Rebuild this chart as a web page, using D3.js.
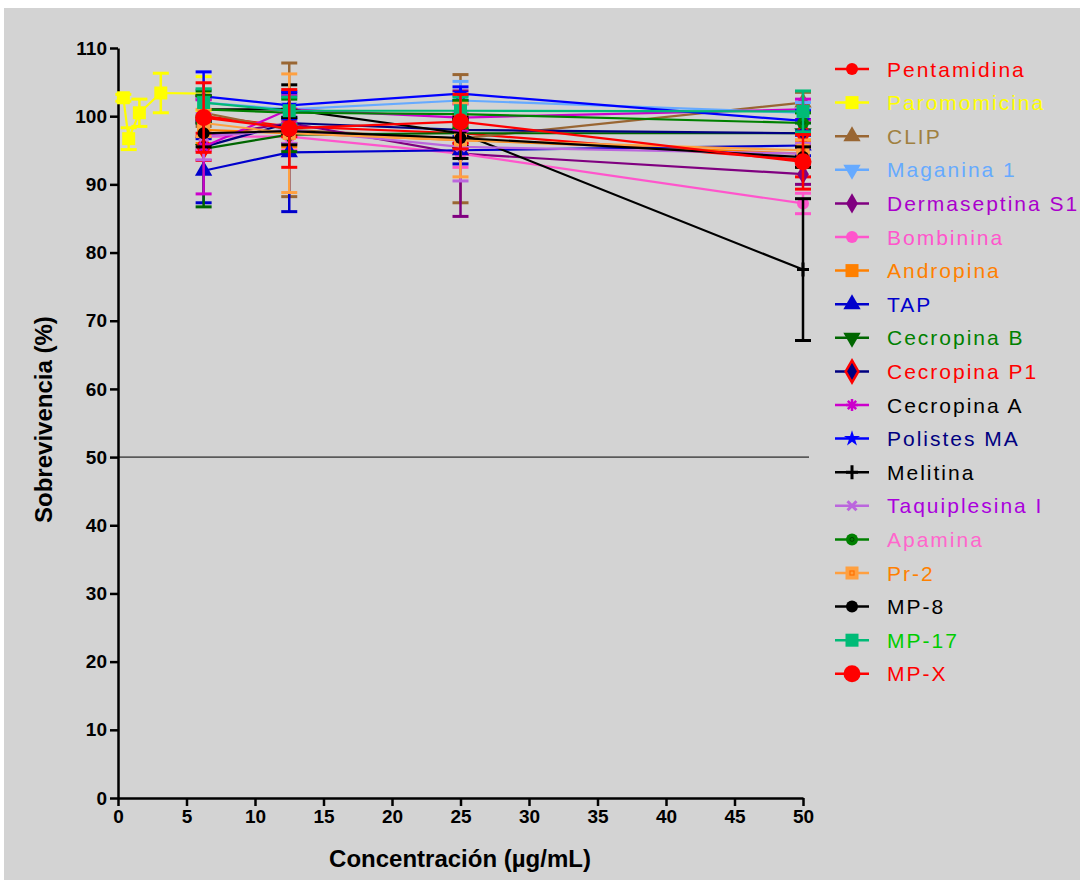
<!DOCTYPE html>
<html lang="es">
<head>
  <meta charset="UTF-8">
  <title>Sobrevivencia</title>
  <script src="https://cdn.jsdelivr.net/npm/d3@7"></script>
  <style>
    body { margin: 0; background: #fff; }
  </style>
</head>
<body>
  <script>
    // concentraciones (µg/mL)
    const conc = [6.25, 12.5, 25, 50]
    const concParo = [0.39, 0.78, 1.56, 3.125, 6.25]

    const names = ['Pentamidina', 'Paromomicina', 'CLIP', 'Maganina 1', 'Dermaseptina S1', 'Bombinina',
      'Andropina', 'TAP', 'Cecropina B', 'Cecropina P1', 'Cecropina A', 'Polistes MA', 'Melitina',
      'Taquiplesina I', 'Apamina', 'Pr-2', 'MP-8', 'MP-17', 'MP-X']
    const lineColors = ['#ff0000', '#ffff00', '#996633', '#66aaff', '#800080', '#ff55cc',
      '#ff8000', '#0000cc', '#006600', '#000080', '#cc00cc', '#0000ff', '#000000',
      '#bb66dd', '#008000', '#ffa040', '#000000', '#00bb77', '#ff0000']
    const textColors = ['#ff0000', '#ffff00', '#a08040', '#66aaff', '#aa00cc', '#ff55cc',
      '#ff8000', '#0000cc', '#008000', '#ff0000', '#000000', '#000080', '#000000',
      '#aa00dd', '#ff66cc', '#ff8000', '#000000', '#00cc00', '#ff0000']
    const symbols = ['circle', 'square', 'triangle', 'triangleDown', 'diamond', 'circle',
      'square', 'triangle', 'triangleDown', 'diamond', 'asterisk', 'star', 'plus',
      'times', 'circleDot', 'squareDot', 'circle', 'square', 'bigCircle']

    // media de sobrevivencia (%) por serie
    const means = [
      [100.0, 98.5, 97.5, 93.6],
      [102.7, 96.7, 100.5, 103.4, 103.3],
      [100.5, 98.0, 96.7, 102.0],
      [102.0, 101.0, 102.3, 100.5],
      [97.0, 99.0, 94.5, 91.5],
      [97.0, 97.0, 94.5, 87.2],
      [98.0, 97.5, 96.5, 94.5],
      [92.0, 94.7, 95.0, 95.7],
      [95.2, 97.3, 97.5, 97.5],
      [95.5, 99.0, 98.0, 97.5],
      [95.5, 101.0, 99.8, 101.0],
      [102.9, 101.6, 103.3, 99.3],
      [101.0, 101.0, 97.5, 77.5],
      [97.0, 98.0, 95.5, 94.5],
      [101.0, 100.5, 100.3, 99.0],
      [99.0, 97.5, 96.5, 95.0],
      [97.5, 97.8, 96.8, 94.0],
      [102.0, 100.8, 100.8, 100.7],
      [99.8, 98.2, 99.2, 93.3]
    ]
    // error estándar
    const errs = [
      [3.0, 2.5, 2.0, 2.5],
      [0.5, 1.6, 2.0, 2.9, 2.5],
      [2.0, 9.8, 9.4, 1.5],
      [2.0, 2.0, 2.8, 1.5],
      [2.0, 2.0, 9.2, 1.5],
      [2.0, 2.0, 2.0, 1.5],
      [2.0, 2.0, 2.0, 2.0],
      [4.7, 8.7, 2.0, 1.5],
      [8.5, 2.5, 2.0, 1.5],
      [2.0, 2.0, 2.0, 2.0],
      [6.9, 2.0, 2.0, 1.5],
      [3.6, 2.0, 1.0, 1.5],
      [2.0, 3.6, 2.0, 10.4],
      [3.4, 2.0, 5.0, 1.5],
      [2.0, 2.0, 2.0, 1.5],
      [2.0, 8.7, 5.4, 1.5],
      [2.0, 2.0, 3.0, 1.5],
      [2.0, 2.0, 2.0, 3.0],
      [5.1, 5.7, 4.0, 4.0]
    ]

    const xTicks = [0, 5, 10, 15, 20, 25, 30, 35, 40, 45, 50]
    const yTicks = [0, 10, 20, 30, 40, 50, 60, 70, 80, 90, 100, 110]
    const refLine = 50

    const W = 1084, H = 883
    const svg = d3.select('body').append('svg')
      .attr('width', W).attr('height', H)

    svg.append('rect')
      .attr('x', 4).attr('y', 8).attr('width', 1076).attr('height', 872)
      .attr('fill', '#d3d3d3')

    const x = d3.scaleLinear().domain([0, 50]).range([118, 803])
    const y = d3.scaleLinear().domain([0, 110]).range([798, 48])

    const textFont = '"Liberation Sans", Arial, sans-serif'
    const narrowFont = '"Liberation Sans Narrow", "Arial Narrow", "Liberation Sans", Arial, sans-serif'

    // ejes
    const xAxis = svg.append('g')
      .attr('transform', `translate(0,${y(0)})`)
      .call(d3.axisBottom(x).tickValues(xTicks).tickSize(8).tickPadding(4).tickSizeOuter(0))
    const yAxis = svg.append('g')
      .attr('transform', `translate(${x(0)},0)`)
      .call(d3.axisLeft(y).tickValues(yTicks).tickSize(8).tickPadding(3).tickSizeOuter(0))

    ;[xAxis, yAxis].forEach(g => {
      g.select('.domain').attr('stroke', '#000').attr('stroke-width', 2.5)
      g.selectAll('.tick line').attr('stroke', '#000').attr('stroke-width', 2.5)
      g.selectAll('.tick text')
        .attr('fill', '#000')
        .style('font-family', narrowFont)
        .style('font-weight', 'bold')
        .style('font-size', '19px')
    })

    svg.append('text')
      .attr('x', 460).attr('y', 867)
      .attr('text-anchor', 'middle')
      .style('font-family', textFont).style('font-weight', 'bold').style('font-size', '24px')
      .text('Concentración (µg/mL)')

    svg.append('text')
      .attr('transform', `translate(52,${y(55.5)}) rotate(-90)`)
      .attr('text-anchor', 'middle')
      .style('font-family', textFont).style('font-weight', 'bold').style('font-size', '24px')
      .text('Sobrevivencia (%)')

    // línea de referencia 50 %
    svg.append('line')
      .attr('x1', x(0)).attr('x2', x(50) + 6)
      .attr('y1', y(refLine)).attr('y2', y(refLine))
      .attr('stroke', '#000').attr('stroke-width', 1)

    // marcadores
    function drawMarker(g, kind, i, cx, cy) {
      const c = lineColors[i]
      const m = g.append('g').attr('transform', `translate(${cx},${cy})`)
      const sym = t => d3.symbol().type(t)
      if (kind === 'circle') {
        m.append('circle').attr('r', 6).attr('fill', c)
      } else if (kind === 'bigCircle') {
        m.append('circle').attr('r', 8.5).attr('fill', c)
      } else if (kind === 'circleDot') {
        m.append('circle').attr('r', 6).attr('fill', c)
        m.append('circle').attr('r', 2).attr('fill', 'none').attr('stroke', '#004400').attr('stroke-width', 1)
      } else if (kind === 'square') {
        m.append('rect').attr('x', -6.5).attr('y', -6.5).attr('width', 13).attr('height', 13).attr('fill', c)
      } else if (kind === 'squareDot') {
        m.append('rect').attr('x', -6.5).attr('y', -6.5).attr('width', 13).attr('height', 13).attr('fill', c)
        m.append('rect').attr('x', -2).attr('y', -2).attr('width', 4).attr('height', 4)
          .attr('fill', 'none').attr('stroke', '#ff7000').attr('stroke-width', 1.2)
      } else if (kind === 'triangle') {
        m.append('path').attr('d', sym(d3.symbolTriangle).size(130)()).attr('fill', c)
      } else if (kind === 'triangleDown') {
        m.append('path').attr('d', sym(d3.symbolTriangle).size(130)()).attr('fill', c)
          .attr('transform', 'rotate(180)')
      } else if (kind === 'diamond') {
        if (names[i] === 'Cecropina P1') {
          m.append('path').attr('d', sym(d3.symbolDiamond).size(140)())
            .attr('fill', '#000080').attr('stroke', '#ff0000').attr('stroke-width', 2.5)
        } else {
          m.append('path').attr('d', sym(d3.symbolDiamond).size(120)()).attr('fill', c)
        }
      } else if (kind === 'star') {
        m.append('path').attr('d', sym(d3.symbolStar).size(80)()).attr('fill', c)
      } else if (kind === 'plus') {
        m.append('path').attr('d', 'M-6,0H6M0,-7V7').attr('stroke', c).attr('stroke-width', 3)
      } else if (kind === 'times') {
        m.append('path').attr('d', 'M-4.5,-4.5L4.5,4.5M-4.5,4.5L4.5,-4.5').attr('stroke', c).attr('stroke-width', 3)
      } else if (kind === 'asterisk') {
        m.append('path').attr('d', 'M-6,0H6M0,-6V6M-4.2,-4.2L4.2,4.2M-4.2,4.2L4.2,-4.2')
          .attr('stroke', c).attr('stroke-width', 2.5)
        m.append('circle').attr('r', 3).attr('fill', c)
      }
    }

    const line = d3.line().x(d => x(d[0])).y(d => y(d[1]))
    const plot = svg.append('g')

    names.forEach((name, i) => {
      const xs = name === 'Paromomicina' ? concParo : conc
      const pts = xs.map((cx, j) => [cx, means[i][j], errs[i][j]])
      const g = plot.append('g')
      g.append('path')
        .attr('d', line(pts))
        .attr('fill', 'none')
        .attr('stroke', lineColors[i])
        .attr('stroke-width', 2.2)
      const barColor = name === 'Cecropina P1' ? '#ff0000' : lineColors[i]
      pts.forEach(p => {
        const px = x(p[0])
        g.append('line')
          .attr('x1', px).attr('x2', px)
          .attr('y1', y(p[1] - p[2])).attr('y2', y(p[1] + p[2]))
          .attr('stroke', barColor).attr('stroke-width', 2.5)
        ;[p[1] - p[2], p[1] + p[2]].forEach(v => {
          g.append('line')
            .attr('x1', px - 8).attr('x2', px + 8)
            .attr('y1', y(v)).attr('y2', y(v))
            .attr('stroke', barColor).attr('stroke-width', 3)
        })
      })
      pts.forEach(p => drawMarker(g, symbols[i], i, x(p[0]), y(p[1])))
    })

    // leyenda
    const legend = svg.append('g')
    const rowH = 33.6
    names.forEach((name, i) => {
      const cy = 69 + i * rowH
      legend.append('line')
        .attr('x1', 835).attr('x2', 869).attr('y1', cy).attr('y2', cy)
        .attr('stroke', lineColors[i]).attr('stroke-width', 2.5)
      drawMarker(legend, symbols[i], i, 852, cy)
      legend.append('text')
        .attr('x', 887).attr('y', cy + 7.5)
        .attr('fill', textColors[i])
        .style('font-family', textFont)
        .style('font-size', '21px')
        .style('letter-spacing', '2px')
        .text(name)
    })
  </script>
</body>
</html>
